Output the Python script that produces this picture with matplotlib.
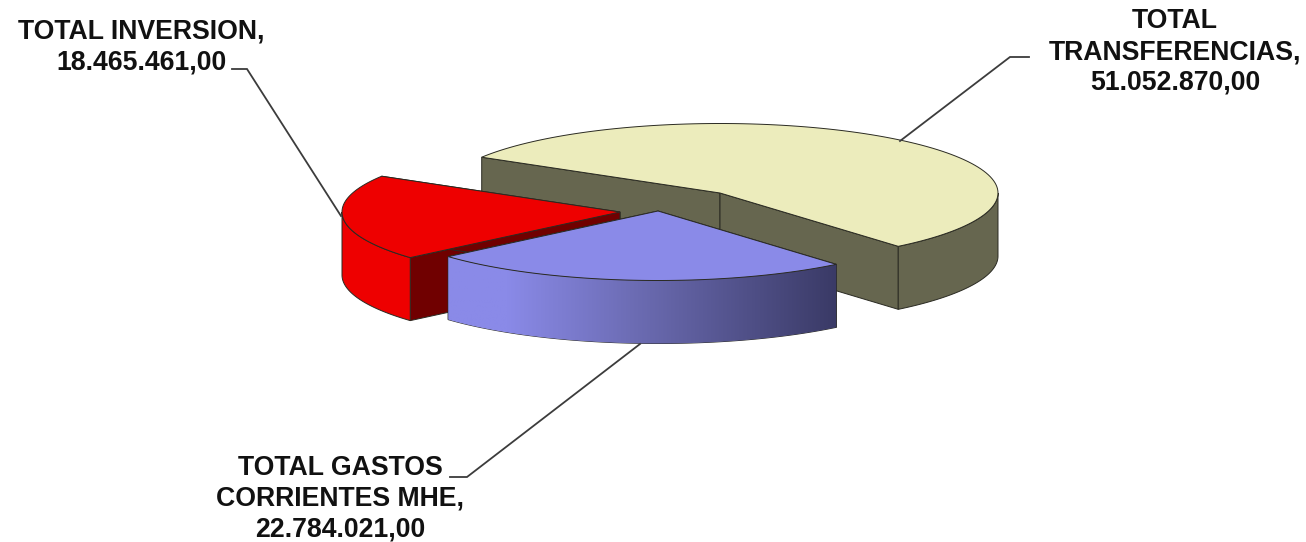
import matplotlib
matplotlib.use('Agg')
import matplotlib.pyplot as plt
from matplotlib.colors import LinearSegmentedColormap
from matplotlib.patches import Polygon
import numpy as np

# slices, clockwise from the back left
categories = ['TOTAL\nTRANSFERENCIAS', 'TOTAL GASTOS\nCORRIENTES MHE', 'TOTAL INVERSION']
values = [51052870.00, 22784021.00, 18465461.00]
top_colors = ['#ECECBC', '#8A8AE8', '#EE0000']
wall_colors = ['#66664F', '#55559A', '#700000']
side_colors = ['#66664F', 'none', '#EE0000']
centers = [(720, 193), (658, 211), (620, 212)]
draw_order = [0, 2, 1]  # blue sits in front of red

label_pos = [(1175, 52), (340, 499), (141, 47)]
leaders = [[(900, 141), (1010, 57), (1029, 57)],
           [(640, 344), (467, 477), (450, 477)],
           [(341, 216), (247, 69), (232, 69)]]

start_angle = 149
rx, ry = 278, 69.5
depth = 63
edge = '#2A2A22'


def rim(center, a1, a2, n=120):
    t = np.radians(np.linspace(a1, a2, n))
    return center[0] + rx * np.cos(t), center[1] - ry * np.sin(t)


def side_poly(center, a1, a2):
    x, y = rim(center, a1, a2)
    return np.r_[np.c_[x, y], np.c_[x[::-1], y[::-1] + depth]]


def fmt(v):
    return f'{v:,.2f}'.replace(',', '#').replace('.', ',').replace('#', '.')


plt.rcParams['font.family'] = ['Liberation Sans', 'DejaVu Sans']
fig = plt.figure(figsize=(13.06, 5.42), dpi=100)
ax = fig.add_axes([0, 0, 1, 1])

# angle ranges from the values
spans = np.array(values) / sum(values) * 360
ends = start_angle - np.cumsum(spans)
starts = np.r_[start_angle, ends[:-1]]

blue_side = LinearSegmentedColormap.from_list(
    'b', [(0, '#8A8AE8'), (0.15, '#8A8AE8'), (0.5, '#6A6AB0'), (1, '#3A3A66')])

for i in range(3):
    c = centers[i]
    a1, a2 = starts[i], ends[i]
    x, y = rim(c, a1, a2)
    z = draw_order[i] * 3

    # flat inner walls
    for a in (a1, a2):
        px, py = rim(c, a, a, 1)
        wall = [c, (px[0], py[0]), (px[0], py[0] + depth), (c[0], c[1] + depth)]
        ax.add_patch(Polygon(wall, fc=wall_colors[i], ec=edge, lw=0.7, zorder=z + 1))

    # outer wall, only the part facing the viewer
    s_lo, s_hi = max(a2, -180), min(a1, 0)
    poly = Polygon(side_poly(c, s_lo, s_hi), fc=side_colors[i], ec=edge, lw=0.7, zorder=z + 2)
    ax.add_patch(poly)
    if i == 1:
        grad = np.linspace(0, 1, 256).reshape(1, -1)
        xy = poly.get_xy()
        im = ax.imshow(grad, cmap=blue_side, aspect='auto', zorder=z + 2,
                       extent=[xy[:, 0].min(), xy[:, 0].max(), 400, 200])
        im.set_clip_path(poly)

    # top face
    top = np.r_[[c], np.c_[x, y]]
    ax.add_patch(Polygon(top, fc=top_colors[i], ec=edge, lw=0.7, zorder=z + 3))

# leader lines
for pts in leaders:
    pts = np.array(pts)
    ax.plot(pts[:, 0], pts[:, 1], color='#3C3C3C', lw=1.3, zorder=20, solid_joinstyle='miter')

for i in range(3):
    ax.text(label_pos[i][0], label_pos[i][1], categories[i] + ',\n' + fmt(values[i]),
            ha='center', va='center', fontsize=19.2, fontweight='bold', color='#111111',
            linespacing=1.23, zorder=21)

ax.set_xlim(0, 1306)
ax.set_ylim(542, 0)
ax.axis('off')

fig.savefig('out.png', dpi=100)
